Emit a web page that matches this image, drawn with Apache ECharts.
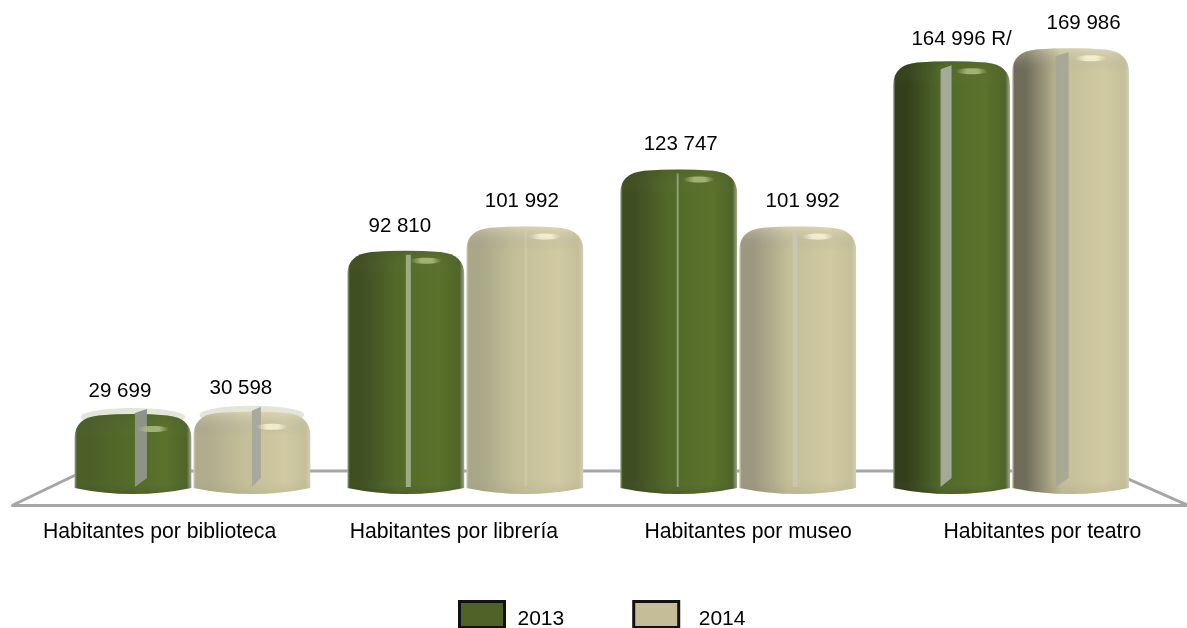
<!DOCTYPE html>
<html><head><meta charset="utf-8">
<style>html,body{margin:0;padding:0;background:#fff}#c{width:1187px;height:628px}</style>
<script src="https://cdn.jsdelivr.net/npm/echarts@6/dist/echarts.min.js"></script>
</head><body><div id="c"></div>
<script>
const categories = ['Habitantes por biblioteca','Habitantes por librería','Habitantes por museo','Habitantes por teatro'];
const years = ['2013','2014'];
const values2013 = [29699, 92810, 123747, 164996];
const values2014 = [30598, 101992, 101992, 169986];
const labels2013 = ['29 699','92 810','123 747','164 996 R/'];
const labels2014 = ['30 598','101 992','101 992','169 986'];

// styling tables (per series, per category)
const labelDx = [[-13,-6,2,10],[-11,-3,5,13]];
const labelDy = [[-23,-24,-25,-22],[-23,-25,-25,-25]];
const capH = [7,0,0,0];
const leftTone = [['#4b5f27','#3f4f22','#3f4e22','#333f1c'],['#b0ac8c','#aaa688','#9c9880','#6f6c59']];
const strips = [
  [[2,12,'#8e9388',1,true],[0,5,'#a9b596',.85,false],[-2,2,'#a9b596',.7,false],[-11,11,'#a5aa97',1,true]],
  [[0,9,'#a9a99b',1,true],[0,2,'#d8d3b4',.45,false],[-5,5,'#c9c8b5',.8,false],[-15,13,'#a8a793',.95,true]]
];
const tone = [
  {mid:'#526a29',hi:'#5a722c',end:'#4f6528',rim:'#a0a890',spec:'#b9c98a',top:'rgba(60,75,30,0.18)',bot:'rgba(30,40,15,0.18)',legend:'#4f6228'},
  {mid:'#c4be98',hi:'#d0c9a2',end:'#c6c09a',rim:'#d0cebd',spec:'#fdf9dc',top:'rgba(245,240,215,0.35)',bot:'rgba(120,115,85,0.12)',legend:'#c4bd97'}
];
const FONT = '"Liberation Sans", Arial, sans-serif';

function makeRender(s){
  return function(params, api){
    const i = api.value(0), v = api.value(1);
    const band = api.size([1,0])[0];
    const w = band*0.428, off = band*0.218*(s===0?-1:1);
    const xm = api.coord([i,v])[0]+off, top = api.coord([i,v])[1]-(capH[i]>0?2:0), bot = api.coord([i,0])[1];
    const x0 = xm-w/2, x1 = xm+w/2, bs = bot-6, t = tone[s];
    const d = `M${x0} ${bs}L${x0} ${top+24}Q${x0} ${top+4} ${x0+24} ${top+1.5}Q${xm} ${top-1} ${x1-24} ${top+1.5}Q${x1} ${top+4} ${x1} ${top+24}L${x1} ${bs}Q${xm} ${bot+6} ${x0} ${bs}Z`;
    const shape = {pathData:d,x:x0,y:top,width:w,height:bot-top,layout:'cover'};
    const kids = [];
    if(capH[i]>0){
      kids.push({type:'ellipse',shape:{cx:xm,cy:top+3,rx:w/2-6,ry:capH[i]+2},style:{fill:'#e4e5da'}});
    }
    kids.push({type:'path',shape,style:{fill:{type:'linear',x:0,y:0,x2:1,y2:0,colorStops:[
      {offset:0,color:t.rim},{offset:.02,color:leftTone[s][i]},{offset:.12,color:leftTone[s][i]},
      {offset:.42,color:t.mid},{offset:.78,color:t.hi},{offset:.96,color:t.end},{offset:1,color:t.rim}]}}});
    kids.push({type:'path',shape,style:{fill:{type:'linear',x:0,y:top,x2:0,y2:top+24,global:true,colorStops:[
      {offset:0,color:t.top},{offset:1,color:'rgba(128,128,128,0)'}]}}});
    kids.push({type:'path',shape,style:{fill:{type:'linear',x:0,y:bot-14,x2:0,y2:bot,global:true,colorStops:[
      {offset:0,color:'rgba(128,128,128,0)'},{offset:1,color:t.bot}]}}});
    const st = strips[s][i];
    const sx0 = xm+st[0], sx1 = sx0+st[1];
    const topY = top+(capH[i]>0?-5:4);
    kids.push({type:'polygon',shape:{points:[[sx0,topY+(st[4]?4:0)],[sx1,topY],[sx1,bot-(st[4]?16:7)],[sx0,bot-7]]},style:{fill:st[2],opacity:st[3]}});
    const spx = xm+4, spw = 32, spy = top+(capH[i]>0?15:10);
    kids.push({type:'ellipse',shape:{cx:spx+spw/2,cy:spy,rx:spw/2,ry:3},style:{fill:{type:'linear',x:0,y:0,x2:1,y2:0,colorStops:[
      {offset:0,color:t.spec+'00'},{offset:.35,color:t.spec},{offset:.7,color:t.spec},{offset:1,color:t.spec+'00'}]},opacity:.75}});
    kids.push({type:'text',style:{text:(s===0?labels2013:labels2014)[i],x:xm+labelDx[s][i],y:top+labelDy[s][i],
      align:'center',verticalAlign:'middle',fill:'#000',font:'20.5px '+FONT}});
    return {type:'group',children:kids};
  };
}

const chart = echarts.init(document.getElementById('c'),null,{renderer:'canvas'});
chart.setOption({
  animation:false,
  backgroundColor:'#fff',
  grid:[
    {left:56,width:1091.5,top:22,bottom:134,outerBoundsMode:'none'},
    {left:12.5,width:1177,top:400,bottom:123,outerBoundsMode:'none'}
  ],
  xAxis:[
    {type:'category',gridIndex:0,data:categories,show:false},
    {type:'category',gridIndex:1,data:categories,
     axisLine:{show:true,lineStyle:{color:'#a6a6a6',width:3}},axisTick:{show:false},
     axisLabel:{interval:0,margin:17,color:'#000',fontSize:21.2,fontFamily:FONT}}
  ],
  yAxis:[
    {type:'value',gridIndex:0,min:0,max:180000,show:false},
    {type:'value',gridIndex:1,show:false}
  ],
  graphic:{elements:[{type:'polyline',z:-1,silent:true,shape:{points:[[13,505],[84,471],[1110,471],[1187,505]]},style:{stroke:'#a6a6a6',lineWidth:3,fill:null}}]},
  legend:{show:true,left:458,top:600,padding:0,icon:'rect',itemWidth:45,itemHeight:26,itemGap:68,data:years,
    itemStyle:{borderColor:'#111',borderWidth:3},
    formatter:function(n){return (n===years[0]?'{a|':'{b|')+n+'}';},
    textStyle:{color:'#000',fontSize:21,fontFamily:FONT,rich:{
      a:{color:'#000',fontSize:21,fontFamily:FONT,padding:[10,0,0,8]},
      b:{color:'#000',fontSize:21,fontFamily:FONT,padding:[10,0,0,15]}}}},
  series:[values2013,values2014].map((vals,s)=>({
    type:'custom',name:years[s],xAxisIndex:0,yAxisIndex:0,clip:false,
    itemStyle:{color:tone[s].legend},
    encode:{x:0,y:1},
    renderItem:makeRender(s),
    data:categories.map((c,i)=>[i,vals[i]])
  }))
});
</script></body></html>
